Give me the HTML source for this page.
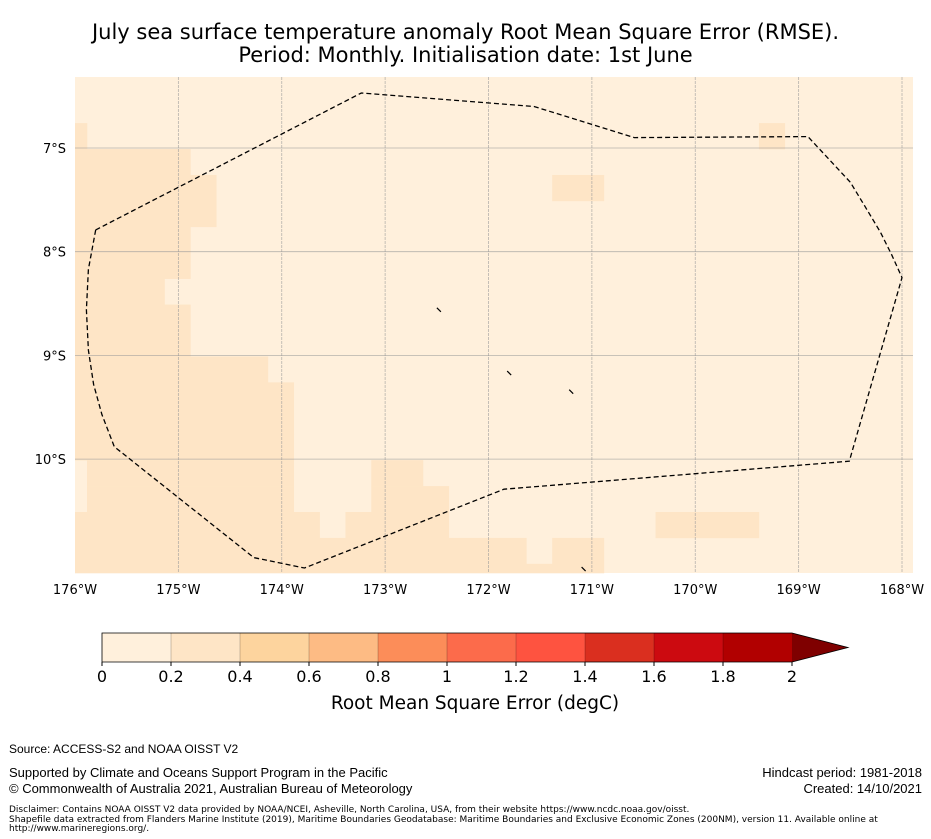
<!DOCTYPE html>
<html><head><meta charset="utf-8"><style>
body{margin:0;background:#fff;font-family:"Liberation Sans","DejaVu Sans",sans-serif;}
#root{position:relative;width:931px;height:839px;overflow:hidden;background:#fff}
.t{position:absolute;white-space:nowrap;color:#000}
</style></head><body>
<div id="root">
<div class="t" style="left:0;width:931px;text-align:center;top:21px;font-size:21px;line-height:23px;font-family:'DejaVu Sans',sans-serif">July sea surface temperature anomaly Root Mean Square Error (RMSE).<br>Period: Monthly. Initialisation date: 1st June</div>
<svg id="map" width="931" height="620" style="position:absolute;left:0;top:0" font-family="DejaVu Sans, sans-serif"></svg>
<svg id="cb" width="931" height="100" style="position:absolute;left:0;top:620px" font-family="DejaVu Sans, sans-serif"></svg>
<div class="t" style="left:9px;top:742px;font-size:12px">Source: ACCESS-S2 and NOAA OISST V2</div>
<div class="t" style="left:9px;top:765px;font-size:13px;line-height:16px">Supported by Climate and Oceans Support Program in the Pacific<br>© Commonwealth of Australia 2021, Australian Bureau of Meteorology</div>
<div class="t" style="right:9px;top:765px;font-size:13px;line-height:16px;text-align:right">Hindcast period: 1981-2018<br>Created: 14/10/2021</div>
<div class="t" style="left:9px;top:806px;font-size:9px;line-height:9.5px;font-family:'DejaVu Sans',sans-serif">Disclaimer: Contains NOAA OISST V2 data provided by NOAA/NCEI, Asheville, North Carolina, USA, from their website https://www.ncdc.noaa.gov/oisst.<br>Shapefile data extracted from Flanders Marine Institute (2019), Maritime Boundaries Geodatabase: Maritime Boundaries and Exclusive Economic Zones (200NM), version 11. Available online at<br>http://www.marineregions.org/.</div>
</div>
<script>
// data
const lonTicks=[-176,-175,-174,-173,-172,-171,-170,-169,-168];
const latTicks=[-7,-8,-9,-10];
// dark cells (0.2-0.4 bin): [rowIndex, colStart, colEnd]; rows/cols of 0.25° cells
const darkRanges=[[0,-1,-1],[0,26,26],[1,-1,3],[2,-1,4],[2,18,19],[3,-1,4],[4,-1,3],[5,-1,3],[6,-1,2],[7,-1,3],[8,-1,3],[9,-1,6],[10,-1,7],[11,-1,7],[12,-1,7],[13,0,7],[13,11,12],[14,0,7],[14,11,13],[15,-1,8],[15,10,13],[15,22,25],[16,-1,16],[16,18,19],[17,-1,19]];
const boundaryLon=[-175.8,-175.87,-175.89,-175.87,-175.82,-175.74,-175.62,-174.27,-173.78,-171.85,-168.51,-168.0,-168.1,-168.21,-168.36,-168.5,-168.91,-170.59,-171.56,-173.23,-175.8];
const boundaryLat=[-7.79,-8.17,-8.56,-8.95,-9.28,-9.57,-9.88,-10.95,-11.05,-10.29,-10.02,-8.25,-8.03,-7.81,-7.56,-7.33,-6.89,-6.9,-6.6,-6.47,-7.79];
const islandsLon=[-172.48,-171.8,-171.2,-171.08];
const islandsLat=[-8.56,-9.17,-9.35,-11.06];
const cbLevels=[0,0.2,0.4,0.6,0.8,1,1.2,1.4,1.6,1.8,2];
const cbColors=['#fff0dc','#fee5c6','#fdd49e','#fdbb84','#fc8d59','#fc6b4b','#fe5340','#da2f1f','#cc0a10','#b10000'];
const cbLabels=['0','0.2','0.4','0.6','0.8','1','1.2','1.4','1.6','1.8','2'];

const NS='http://www.w3.org/2000/svg';
const X0=75,X1=913,Y0=77,Y1=573;
const xs=lon=>75+(lon+176)*103.375;
const ys=lat=>148+(-7-lat)*103.7;
function mk(p,tag,a){const e=document.createElementNS(NS,tag);for(const k in a)e.setAttribute(k,a[k]);p.appendChild(e);return e;}
const map=document.getElementById('map');
const bg=mk(map,'rect',{x:X0,y:Y0,width:X1-X0,height:Y1-Y0,fill:cbColors[0]});


const colLon=c=>-175.884+0.25*c;
const rowLat=r=>-6.76-0.25*r;
darkRanges.forEach(([r,c0,c1])=>{
  let x0=Math.max(X0,xs(colLon(c0))), x1=Math.min(X1,xs(colLon(c1+1)));
  let y0=Math.max(Y0,ys(rowLat(r))), y1=Math.min(Y1,ys(rowLat(r+1)));
  const e=mk(map,'rect',{x:x0,y:y0,width:x1-x0+0.3,height:y1-y0+0.3,fill:cbColors[1]});
  
  
});
const g=mk(map,'g',{stroke:'#999','stroke-width':0.8,'stroke-opacity':0.7});
lonTicks.forEach(l=>{const x=xs(l);if(x>X0+2){const e=mk(g,'line',{x1:x,x2:x,y1:Y0,y2:Y1,'stroke-dasharray':'3,1'});}});
latTicks.forEach(l=>{const y=ys(l);const e=mk(g,'line',{x1:X0,x2:X1,y1:y,y2:y});});
let d='';boundaryLon.forEach((l,i)=>{d+=(i?'L':'M')+xs(l).toFixed(1)+','+ys(boundaryLat[i]).toFixed(1);});
const b=mk(map,'path',{d:d,fill:'none',stroke:'#000','stroke-width':1.3,'stroke-dasharray':'5,3'});


islandsLon.forEach((l,i)=>{const x=xs(l),y=ys(islandsLat[i]);const e=mk(map,'line',{x1:x-2,y1:y-2,x2:x+2,y2:y+2,stroke:'#000','stroke-width':1.2});});
lonTicks.forEach(l=>{const t=mk(map,'text',{x:xs(l),y:594,'text-anchor':'middle','font-size':13});t.textContent=Math.abs(l)+'°W';});
latTicks.forEach(l=>{const t=mk(map,'text',{x:66,y:ys(l)+5,'text-anchor':'end','font-size':13});t.textContent=Math.abs(l)+'°S';});
// colorbar
const cb=document.getElementById('cb');
const CX0=102,CX1=792,CY0=13,CY1=42;
const cx=v=>CX0+(v-cbLevels[0])/(cbLevels[cbLevels.length-1]-cbLevels[0])*(CX1-CX0);
cbColors.forEach((c,i)=>{const e=mk(cb,'rect',{x:cx(cbLevels[i]),y:CY0,width:cx(cbLevels[i+1])-cx(cbLevels[i]),height:CY1-CY0,fill:c});});
const ar=mk(cb,'polygon',{points:`${CX1},${CY0} ${848},${(CY0+CY1)/2} ${CX1},${CY1}`,fill:'#7f0000'});


cbLevels.forEach((v,i)=>{if(i>0&&i<cbLevels.length-1){const e=mk(cb,'line',{x1:cx(v),x2:cx(v),y1:CY0,y2:CY1,stroke:'#000','stroke-opacity':0.2});}});
const o=mk(cb,'polygon',{points:`${CX0},${CY0} ${CX1},${CY0} 848,${(CY0+CY1)/2} ${CX1},${CY1} ${CX0},${CY1}`,fill:'none',stroke:'#000','stroke-width':0.8});


cbLabels.forEach((s,i)=>{const x=cx(cbLevels[i]);mk(cb,'line',{x1:x,x2:x,y1:CY1,y2:CY1+4,stroke:'#000'});const t=mk(cb,'text',{x:x,y:62,'text-anchor':'middle','font-size':16});t.textContent=s;});
const ct=mk(cb,'text',{x:475,y:89,'text-anchor':'middle','font-size':18.5});
ct.textContent='Root Mean Square Error (degC)';


</script>
</body></html>
